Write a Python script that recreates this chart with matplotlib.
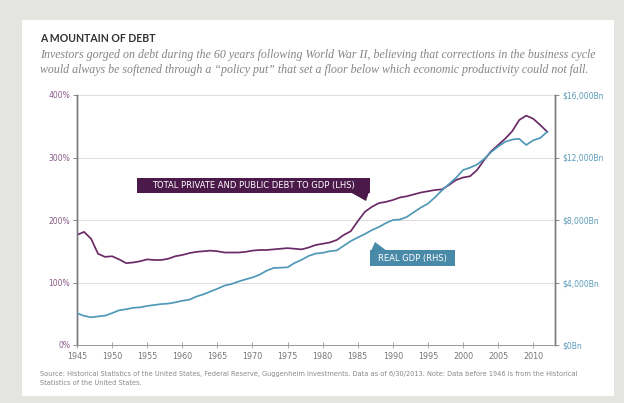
import numpy as np
import matplotlib
matplotlib.use("Agg")
import matplotlib.pyplot as plt
from matplotlib.patches import Rectangle, Polygon
from matplotlib.ticker import FuncFormatter

years = list(range(1945, 2013))

# total private and public debt to GDP, % (LHS)
debt_pct = [176, 181, 170, 146, 141, 142, 137, 131, 132, 134,
            137, 136, 136, 138, 142, 144, 147, 149, 150, 151,
            150, 148, 148, 148, 149, 151, 152, 152, 153, 154,
            155, 154, 153, 156, 160, 162, 164, 168, 176, 182,
            198, 213, 221, 227, 229, 232, 236, 238, 241, 244,
            246, 248, 249, 256, 264, 268, 270, 280, 296, 310,
            320, 330, 342, 360, 367, 362, 352, 341]

# real GDP, $bn (RHS)
gdp_bn = [2030, 1870, 1770, 1830, 1880, 2040, 2220, 2290, 2380, 2410,
          2500, 2560, 2620, 2650, 2730, 2830, 2900, 3100, 3240, 3420,
          3600, 3800, 3900, 4060, 4200, 4320, 4500, 4750, 4930, 4950,
          4970, 5250, 5450, 5700, 5850, 5900, 6000, 6050, 6350, 6650,
          6880, 7100, 7350, 7550, 7800, 8000, 8030, 8200, 8500, 8800,
          9050, 9450, 9900, 10300, 10700, 11200, 11350, 11550, 11900, 12350,
          12700, 13000, 13150, 13200, 12800, 13100, 13250, 13650]

x_ticks = list(range(1945, 2011, 5))
pct_ticks = [0, 100, 200, 300, 400]
bn_ticks = [0, 4000, 8000, 12000, 16000]

PURPLE = "#6a2a66"
PURPLE_BOX = "#4b1a4a"
BLUE = "#4f98b8"
BLUE_BOX = "#4a8aa9"

W, H = 624, 403
fig = plt.figure(figsize=(W / 100, H / 100), dpi=100, facecolor="#e4e4e0")

# white panel
fig.patches.append(Rectangle((22 / W, 1 - 396 / H), (614 - 22) / W, (396 - 20) / H,
                             transform=fig.transFigure, facecolor="white",
                             edgecolor="none", zorder=-5))

ax = fig.add_axes([77 / W, 1 - 345 / H, (555 - 77) / W, 250 / H])
ax.set_zorder(2)
ax.set_facecolor("none")
ax2 = ax.twinx()
ax2.set_zorder(3)
ax2.set_facecolor("none")

ax.plot(years, debt_pct, color=PURPLE, lw=1.25, zorder=3)
ax2.plot(years, gdp_bn, color=BLUE, lw=1.25, zorder=3)

ax.set_xlim(1945, 2013.1)
ax.set_ylim(0, 400)
ax2.set_ylim(0, 16000)

ax.set_xticks(x_ticks)
ax.set_yticks(pct_ticks)
ax2.set_yticks(bn_ticks)
ax.yaxis.set_major_formatter(FuncFormatter(lambda v, p: f"{v:.0f}%"))
ax2.yaxis.set_major_formatter(FuncFormatter(lambda v, p: f"${v:,.0f}Bn"))

ax.grid(axis="y", color="#dcdcdc", lw=0.7)
ax.set_axisbelow(True)

for a in (ax, ax2):
    a.spines["top"].set_visible(False)
    a.spines["left"].set_color("#7a7a7a")
    a.spines["right"].set_color("#7a7a7a")
    a.spines["bottom"].set_color("#9a9a9a")
    a.spines["left"].set_linewidth(1.0)
    a.spines["right"].set_linewidth(1.0)
    a.spines["bottom"].set_linewidth(0.7)

ax.tick_params(axis="x", direction="inout", length=4, width=0.6, color="#9a9a9a",
               labelsize=5.8, labelcolor="#777777", pad=3)
ax.tick_params(axis="y", direction="out", length=3, width=0.6, color="#7a7a7a",
               labelsize=5.5, labelcolor="#8a5a88", pad=2)
ax2.tick_params(axis="y", direction="out", length=3, width=0.6, color="#7a7a7a",
                labelsize=5.5, labelcolor="#5a9ab8", pad=2)

# series labels with pointers
def ax_xy(px, py):
    return ((px - 77) / 478, (345 - py) / 250)

def label_box(x0, y0, x1, y1, tri, text, color):
    (ax0, ay1), (ax1, ay0) = ax_xy(x0, y0), ax_xy(x1, y1)
    ax2.add_patch(Rectangle((ax0, ay0), ax1 - ax0, ay1 - ay0, transform=ax2.transAxes,
                            facecolor=color, edgecolor="none", zorder=5))
    ax2.add_patch(Polygon([ax_xy(*p) for p in tri], closed=True, transform=ax2.transAxes,
                          facecolor=color, edgecolor="none", zorder=5))
    ax2.text((ax0 + ax1) / 2, (ay0 + ay1) / 2, text, transform=ax2.transAxes,
             ha="center", va="center", color="white", fontsize=6.0,
             family="DejaVu Sans", zorder=6)

label_box(137, 178, 370, 193, [(350, 192), (369, 192), (366, 201)],
          "TOTAL PRIVATE AND PUBLIC DEBT TO GDP (LHS)", PURPLE_BOX)
label_box(370, 250, 455, 266, [(371, 251), (387, 251), (375, 242)],
          "REAL GDP (RHS)", BLUE_BOX)

# titles and notes
fig.text(40 / W, 1 - 38 / H, "A MOUNTAIN OF DEBT", fontsize=7.6, fontweight="bold",
         color="#333333", family="Lato", va="center")
fig.text(40 / W, 1 - 55 / H,
         "Investors gorged on debt during the 60 years following World War II, believing that corrections in the business cycle",
         fontsize=8.6, style="italic", color="#858585", family="Liberation Serif", va="center")
fig.text(40 / W, 1 - 70 / H,
         "would always be softened through a \u201cpolicy put\u201d that set a floor below which economic productivity could not fall.",
         fontsize=8.6, style="italic", color="#858585", family="Liberation Serif", va="center")
fig.text(40 / W, 1 - 374 / H,
         "Source: Historical Statistics of the United States, Federal Reserve, Guggenheim Investments. Data as of 6/30/2013. Note: Data before 1946 is from the Historical",
         fontsize=4.8, color="#888888", family="DejaVu Sans", va="center")
fig.text(40 / W, 1 - 383 / H, "Statistics of the United States.",
         fontsize=4.8, color="#888888", family="DejaVu Sans", va="center")

fig.savefig("out.png", dpi=100, facecolor=fig.get_facecolor())
